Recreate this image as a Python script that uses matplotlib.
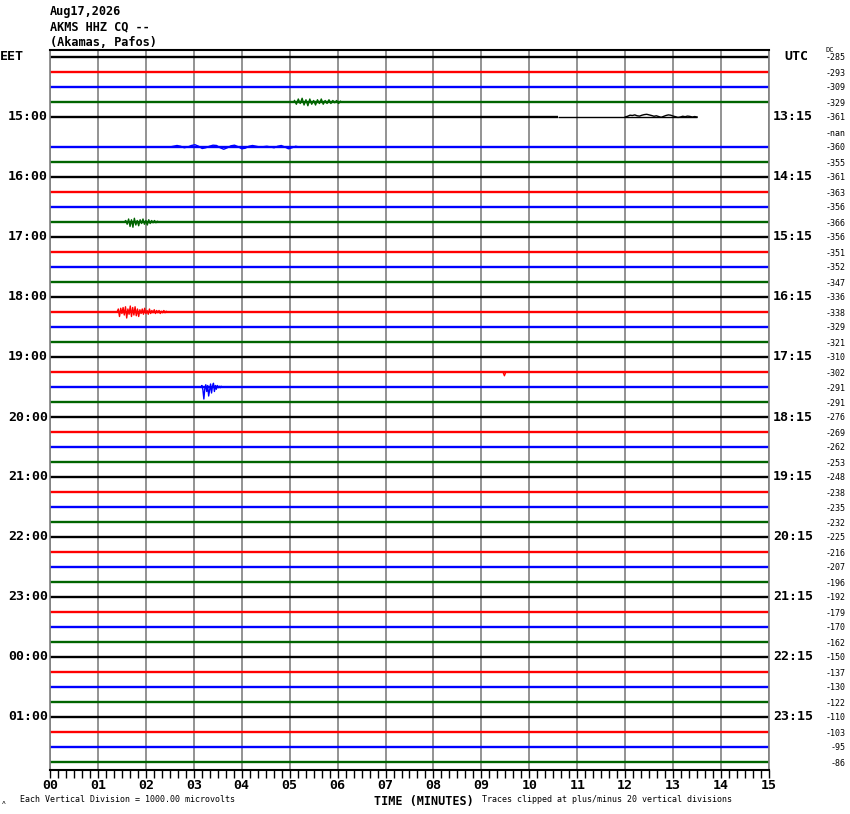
import numpy as np
import matplotlib
matplotlib.use("Agg")
import matplotlib.pyplot as plt
from matplotlib.ticker import MultipleLocator

# header
station_date = "Aug17,2026"
station_code = "AKMS HHZ CQ --"
station_name = "(Akamas, Pafos)"

# 48 rows of 15 minutes (12 hours), colours cycle per row
n_rows = 48
row_colors = ["#000000", "#ff0000", "#0000ff", "#006400"]

left_hours = ["15:00", "16:00", "17:00", "18:00", "19:00", "20:00",
              "21:00", "22:00", "23:00", "00:00", "01:00"]
right_hours = ["13:15", "14:15", "15:15", "16:15", "17:15", "18:15",
               "19:15", "20:15", "21:15", "22:15", "23:15"]
dc_values = ["-285", "-293", "-309", "-329", "-361", "-nan", "-360", "-355",
             "-361", "-363", "-356", "-366", "-356", "-351", "-352", "-347",
             "-336", "-338", "-329", "-321", "-310", "-302", "-291", "-291",
             "-276", "-269", "-262", "-253", "-248", "-238", "-235", "-232",
             "-225", "-216", "-207", "-196", "-192", "-179", "-170", "-162",
             "-150", "-137", "-130", "-122", "-110", "-103", "-95", "-86"]

# rows with no data / data that stops early (minutes)
missing_rows = [5]
partial_row = 4
partial_noisy_end = 10.6
partial_end = 13.5

# events: row, start minute, sample step (min), amplitudes (rows)
ev_rows = [3, 4, 6, 11, 17, 21, 22]
ev_start = [5.1, 12.0, 2.5, 1.55, 1.4, 9.45, 3.15]
ev_step = [0.04, 0.05, 0.075, 0.03, 0.025, 0.03, 0.02]
ev_amp = [
    [0.1, -0.15, 0.2, -0.1, 0.25, -0.2, 0.15, -0.25, 0.2, -0.15, 0.1, -0.2, 0.15,
     -0.1, 0.2, -0.15, 0.1, -0.1, 0.15, -0.1, 0.1, -0.05, 0.1, -0.1, 0.05],
    [0, 0.05, 0.12, 0.1, 0.14, 0.08, 0.06, 0.12, 0.16, 0.18, 0.14, 0.1, 0.05, 0.08,
     0.03, -0.02, 0.04, 0.1, 0.14, 0.12, 0.06, 0.02, -0.03, 0.0, 0.05, 0.02, 0.06,
     0.04, 0.0, 0.03, 0.0],
    [0, 0.05, 0.1, 0.05, -0.05, 0, 0.1, 0.15, 0.05, -0.1, -0.05, 0.05, 0.12, 0.1,
     -0.05, -0.15, -0.05, 0.08, 0.12, 0.02, -0.12, -0.08, 0.05, 0.1, 0.05, 0, 0.02,
     0.05, 0.0, -0.05, 0.05, 0.1, 0.0, -0.12, -0.05, 0.05, 0],
    [0, 0.1, -0.15, 0.2, -0.3, 0.15, -0.35, 0.25, -0.2, 0.1, -0.25, 0.15, -0.1,
     0.2, -0.15, 0.1, -0.2, 0.15, -0.1, 0.1, -0.05, 0.1, -0.05, 0.05, 0],
    [0, 0.2, -0.3, 0.25, -0.1, 0.3, -0.2, 0.35, -0.4, 0.2, -0.15, 0.4, -0.3, 0.3,
     -0.2, 0.35, -0.25, 0.2, -0.3, 0.15, -0.1, 0.2, -0.15, 0.25, -0.1, 0.1, -0.15,
     0.2, -0.1, 0.1, -0.05, 0.15, -0.1, 0.1, -0.05, 0.1, -0.1, 0.05, -0.05, 0.1,
     -0.05, 0.05, 0],
    [0, -0.25, 0],
    [0, 0.1, -0.2, -0.8, -0.1, 0.15, -0.3, 0.1, -0.6, -0.2, 0.2, -0.4, 0.05,
     0.25, -0.3, 0.1, -0.15, 0.1, -0.05, 0.05, -0.05, 0.05, 0],
]

W, H, DPI = 850, 814, 100
fig = plt.figure(figsize=(W / DPI, H / DPI), dpi=DPI)
ax = fig.add_axes([50 / W, 1 - 770 / H, 719 / W, 720 / H])

mono = "DejaVu Sans Mono"

for i in range(n_rows):
    if i in missing_rows:
        continue
    c = row_colors[i % 4]
    if i == partial_row:
        ax.plot([0, partial_noisy_end], [i, i], color=c, lw=1.7, solid_capstyle="butt")
        ax.plot([partial_noisy_end, partial_end], [i, i], color=c, lw=1.0, solid_capstyle="butt")
    else:
        ax.plot([0, 15], [i, i], color=c, lw=1.7, solid_capstyle="butt")

for r, t0, dt, amp in zip(ev_rows, ev_start, ev_step, ev_amp):
    t = t0 + dt * np.arange(len(amp))
    ax.plot(t, r - np.array(amp), color=row_colors[r % 4], lw=1.0)

ax.set_xlim(0, 15)
ax.set_ylim(n_rows - 1 + 8 / 15, -7 / 15)
ax.set_yticks([])
ax.set_xticks(range(16))
ax.set_xticklabels([f"{m:02d}" for m in range(16)], fontfamily=mono,
                   fontweight="bold", fontsize=9.5)
ax.xaxis.set_minor_locator(MultipleLocator(1 / 6))
ax.tick_params(axis="x", which="both", direction="out", length=6, width=1,
               color="black", pad=0.5)
ax.grid(axis="x", which="major", color="#808080", lw=1.2)
ax.set_axisbelow(True)
for s in ["left", "right"]:
    ax.spines[s].set_color("#808080")
    ax.spines[s].set_linewidth(1.2)
for s in ["top", "bottom"]:
    ax.spines[s].set_color("black")
    ax.spines[s].set_linewidth(1.5)


def px(x, y):
    return x / W, 1 - y / H


hdr = dict(fontfamily=mono, fontweight="bold", fontsize=8.6, va="center", ha="left")
fig.text(*px(50, 12), station_date, **hdr)
fig.text(*px(50, 27), station_code, **hdr)
fig.text(*px(50, 42), station_name, **hdr)

big = dict(fontfamily=mono, fontweight="bold", fontsize=9.5, va="center")
fig.text(*px(0, 57), "EET", ha="left", **big)
fig.text(*px(784, 57), "UTC", ha="left", **big)
for k, (lh, rh) in enumerate(zip(left_hours, right_hours)):
    y = 57 + 15 * 4 * (k + 1)
    fig.text(*px(48, y), lh, ha="right", **big)
    fig.text(*px(773, y), rh, ha="left", **big)

for i, v in enumerate(dc_values):
    fig.text(*px(846, 58 + 15 * i), v, fontfamily=mono, fontsize=6,
             ha="right", va="center")
fig.text(*px(825, 50), "DC", fontfamily=mono, fontsize=5, ha="left", va="center")

fig.text(*px(2, 802), "ʌ", fontfamily=mono, fontsize=4.5, ha="left", va="center")
fig.text(*px(20, 800), "Each Vertical Division = 1000.00 microvolts",
         fontfamily=mono, fontsize=6, ha="left", va="center")
fig.text(*px(374, 801), "TIME (MINUTES)", fontfamily=mono, fontweight="bold",
         fontsize=8.5, ha="left", va="center")
fig.text(*px(482, 800), "Traces clipped at plus/minus 20 vertical divisions",
         fontfamily=mono, fontsize=6, ha="left", va="center")

fig.savefig("out.png", dpi=DPI)
